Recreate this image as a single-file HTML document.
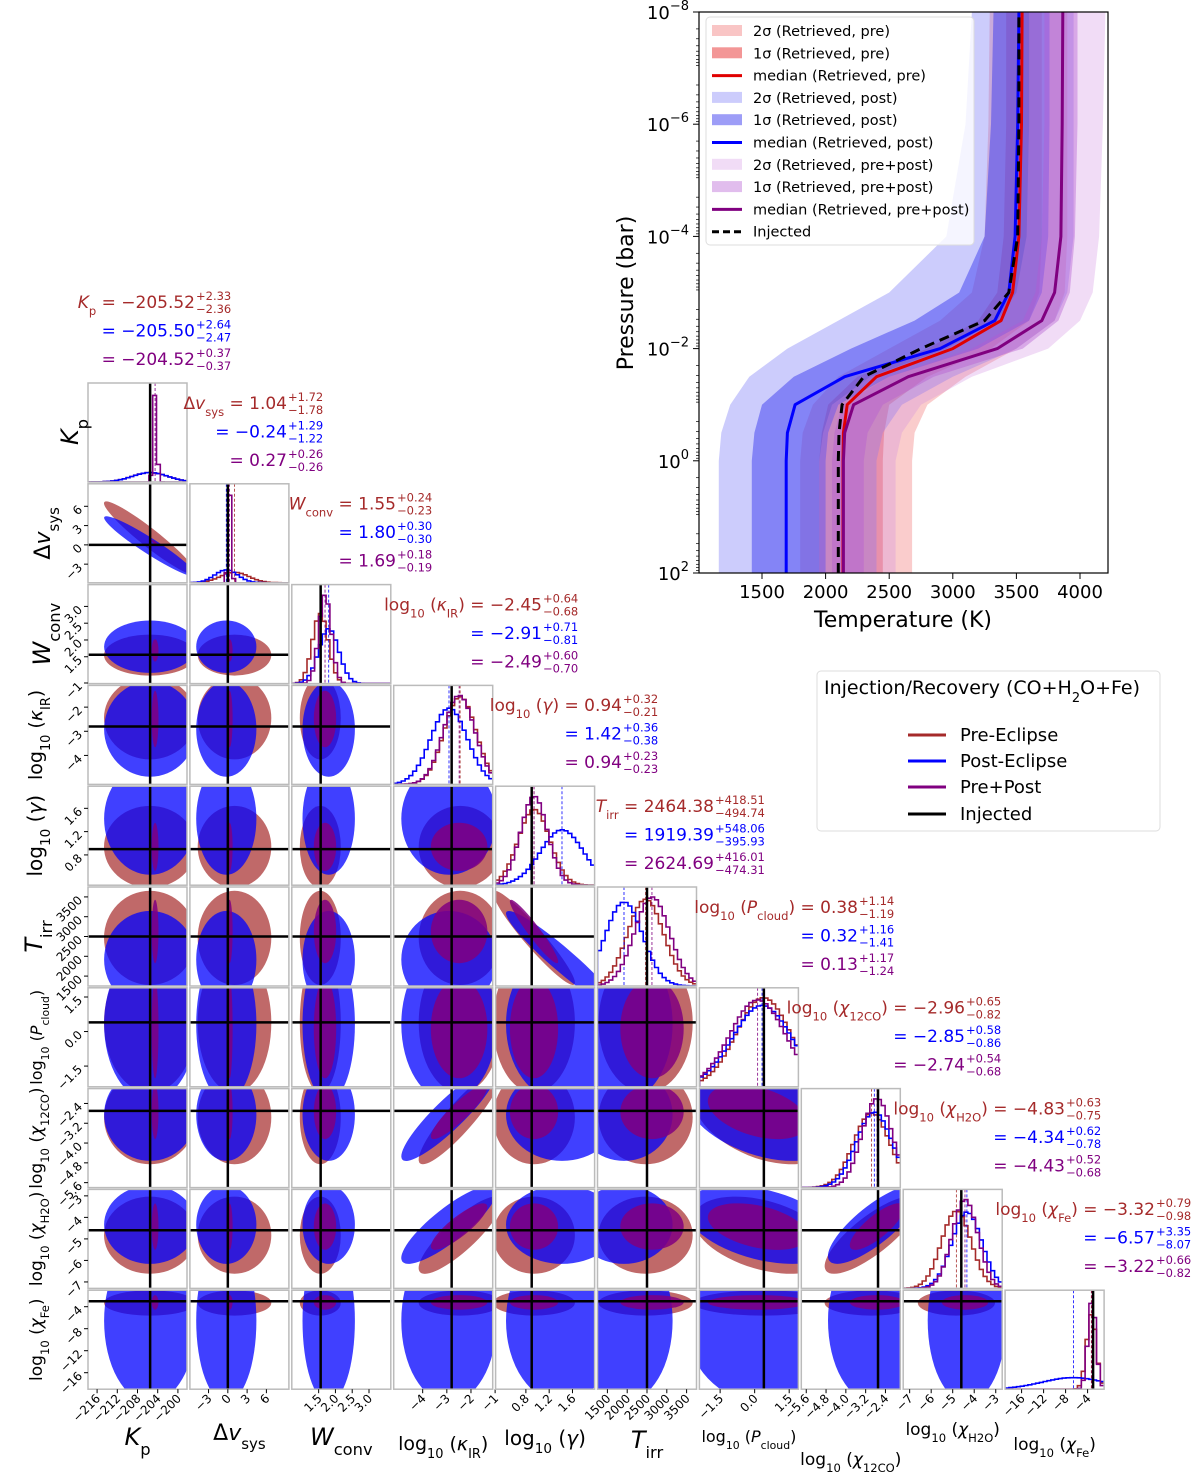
<!DOCTYPE html>
<html><head><meta charset="utf-8"><style>
body{margin:0;background:#fff;}
svg{display:block;font-family:"DejaVu Sans","Liberation Sans",sans-serif;}
</style></head><body>
<svg id="fig" width="1200" height="1473" viewBox="0 0 1200 1473" xmlns="http://www.w3.org/2000/svg">
<defs id="defs"></defs>
<g id="pt"></g>
<g id="corner"></g>
<g id="legend2">
 <rect x="817" y="671" width="343" height="160" rx="4" fill="#fff" stroke="#ddd"/>
 <text x="824" y="694" font-size="19">Injection/Recovery (CO+H<tspan font-size="13" baseline-shift="sub">2</tspan>O+Fe)</text>
 <line x1="908" y1="735" x2="946" y2="735" stroke="#a52a2a" stroke-width="3"/><text x="960" y="741" font-size="18">Pre-Eclipse</text>
 <line x1="908" y1="761" x2="946" y2="761" stroke="#0000ff" stroke-width="3"/><text x="960" y="767" font-size="18">Post-Eclipse</text>
 <line x1="908" y1="787" x2="946" y2="787" stroke="#800080" stroke-width="3"/><text x="960" y="793" font-size="18">Pre+Post</text>
 <line x1="908" y1="814" x2="946" y2="814" stroke="#000" stroke-width="3"/><text x="960" y="820" font-size="18">Injected</text>
</g>
</svg>
<script>
// ---------- PT profile data ----------
const logP = [2, 0, -0.5, -1, -1.5, -2, -2.5, -3, -4, -6, -8];
const preMed  = [2137,2137,2140,2170,2400,3000,3380,3470,3520,3540,3545];
const injT    = [2100,2100,2105,2130,2300,2750,3250,3440,3510,3520,3520];
const postMed = [1690,1690,1700,1760,2150,2900,3330,3440,3490,3510,3520];
const bothMed = [2140,2140,2150,2220,2650,3350,3700,3800,3850,3860,3865];
const post2Lo = [1160,1160,1180,1250,1400,1700,2100,2500,2950,3100,3150];
const post2Hi = [2400,2400,2450,2600,3000,3500,3800,3900,3950,3950,3950];
const post1Lo = [1420,1420,1440,1500,1750,2200,2700,3050,3250,3300,3320];
const post1Hi = [2000,2000,2020,2100,2500,3200,3600,3700,3750,3760,3760];
const pre2Lo  = [1800,1800,1820,1900,2100,2500,2900,3150,3250,3280,3290];
const pre2Hi  = [2680,2680,2700,2800,3100,3500,3800,3880,3900,3900,3900];
const pre1Lo  = [1950,1950,1970,2020,2250,2800,3200,3350,3400,3420,3420];
const pre1Hi  = [2450,2450,2460,2500,2800,3300,3600,3680,3700,3700,3700];
const both2Lo = [1950,1950,1980,2050,2350,2950,3350,3500,3580,3600,3600];
const both2Hi = [2550,2550,2600,2750,3150,3750,4000,4100,4150,4180,4200];
const both1Lo = [2050,2050,2070,2130,2500,3150,3550,3650,3700,3720,3720];
const both1Hi = [2300,2300,2330,2450,2850,3550,3830,3920,3960,3980,3980];
const tTicks = [1500,2000,2500,3000,3500,4000];
const pTicks = [-8,-6,-4,-2,0,2];

// ---------- corner data ----------
const paramRange = [[-217.8,-198.2],[-5.9,9.5],[0.7,3.65],[-5.2,-1.1],[0.28,1.98],[1250,3750],[-2.4,1.9],[-5.8,-1.8],[-7.3,-2.7],[-19,-1]];
const paramTicks = [[-216,-212,-208,-204,-200],[-3,0,3,6],[1.5,2.0,2.5,3.0],[-4,-3,-2,-1],[0.8,1.2,1.6],[1500,2000,2500,3000,3500],[-1.5,0.0,1.5],[-5.6,-4.8,-4.0,-3.2,-2.4],[-7,-6,-5,-4,-3],[-16,-12,-8,-4]];
const tickDecimals = [0,0,1,0,1,0,1,1,0,0];
const injected = [-205.5,0,1.56,-2.8,0.9,2500,0.4,-2.7,-4.6,-3.0];
const medPre  = [-205.52,1.04,1.55,-2.45,0.94,2464,0.38,-2.96,-4.83,-3.32];
const medPost = [-205.50,-0.24,1.80,-2.91,1.42,1919,0.32,-2.85,-4.34,-6.57];
const medBoth = [-204.52,0.27,1.69,-2.49,0.94,2625,0.13,-2.74,-4.43,-3.22];
const sigPre  = [3.5,2.2,0.235,0.66,0.27,457,1.17,0.73,0.69,0.88];
const sigPost = [3.5,1.8,0.30,0.76,0.37,472,1.28,0.72,0.70,5.7];
const sigBoth = [0.37,0.26,0.185,0.65,0.23,445,1.2,0.61,0.60,0.74];
const corrPairs = [[0,1,-0.95],[3,7,0.9],[3,8,0.85],[7,8,0.8],[4,5,-0.95],[6,7,-0.4],[6,8,-0.4]];

const NS="http://www.w3.org/2000/svg";
function mk(tag,attrs,parent){const e=document.createElementNS(NS,tag);for(const k in attrs)e.setAttribute(k,attrs[k]);if(parent)parent.appendChild(e);return e;}

// ===== PT chart =====
const pt=document.getElementById('pt');
const X0=699,X1=1108,Y0=12,Y1=573;
const xT=t=>762+(t-1500)*0.1272;
const yP=p=>Y0+(p+8)*56.1;
mk('clipPath',{id:'ptclip'},document.getElementById('defs')).appendChild(mk('rect',{x:X0,y:Y0,width:X1-X0,height:Y1-Y0}));
const ptInner=mk('g',{'clip-path':'url(#ptclip)'},pt);
function band(lo,hi,fill,name){
  let d='M'+lo.map((t,i)=>xT(t).toFixed(1)+','+yP(logP[i]).toFixed(1)).join('L');
  for(let i=hi.length-1;i>=0;i--)d+='L'+xT(hi[i]).toFixed(1)+','+yP(logP[i]).toFixed(1);
  const e=mk('path',{d:d+'Z',fill:fill,stroke:'none'},ptInner);
  
  
}
function line(ts,col,name,dash){
  const e=mk('path',{d:'M'+ts.map((t,i)=>xT(t).toFixed(1)+','+yP(logP[i]).toFixed(1)).join('L'),fill:'none',stroke:col,'stroke-width':3,'stroke-linejoin':'round'},ptInner);
  if(dash)e.setAttribute('stroke-dasharray',dash);
  
  
}
band(pre2Lo,pre2Hi,'rgba(240,110,110,0.35)','pre-2sigma-band');
band(pre1Lo,pre1Hi,'rgba(235,80,80,0.45)','pre-1sigma-band');
band(post2Lo,post2Hi,'rgba(110,110,245,0.35)','post-2sigma-band');
band(post1Lo,post1Hi,'rgba(60,60,240,0.50)','post-1sigma-band');
band(both2Lo,both2Hi,'rgba(210,140,225,0.30)','prepost-2sigma-band');
band(both1Lo,both1Hi,'rgba(180,90,210,0.40)','prepost-1sigma-band');
line(preMed,'#e00000','pre-median-line');
line(postMed,'#0000ff','post-median-line');
line(bothMed,'#800080','prepost-median-line');
line(injT,'#000','injected-line','10,6');
mk('rect',{x:X0,y:Y0,width:X1-X0,height:Y1-Y0,fill:'none',stroke:'#000','stroke-width':1.2},pt);
tTicks.forEach(t=>{const x=xT(t);mk('line',{x1:x,y1:Y1,x2:x,y2:Y1+6,stroke:'#000'},pt);
 const tx=mk('text',{x:x,y:Y1+25,'font-size':18,'text-anchor':'middle'},pt);tx.textContent=t;
 });
pTicks.forEach(p=>{const y=yP(p);mk('line',{x1:X0-6,y1:y,x2:X0,y2:y,stroke:'#000'},pt);
 const tx=mk('text',{x:X0-10,y:y+7,'font-size':18,'text-anchor':'end'},pt);
 
 tx.innerHTML='10<tspan font-size="13" dy="-9">'+(p<0?'\u2212'+(-p):p)+'</tspan>';});
for(let p=-8;p<2;p++){for(let k=2;k<10;k++){const y=yP(p+Math.log10(k));mk('line',{x1:X0-3,y1:y,x2:X0,y2:y,stroke:'#000','stroke-width':0.7},pt);}}
let t=mk('text',{x:903,y:627,'font-size':22,'text-anchor':'middle'},pt);t.textContent='Temperature (K)';

t=mk('text',{x:0,y:0,'font-size':22,'text-anchor':'middle',transform:'translate(633,293) rotate(-90)'},pt);t.textContent='Pressure (bar)';

// legend
const lg=mk('g',{},pt);

mk('rect',{x:706,y:17,width:268,height:228,rx:4,fill:'rgba(255,255,255,0.8)',stroke:'#ddd'},lg);
const legItems=[['rect','rgba(240,110,110,0.4)','2σ (Retrieved, pre)'],['rect','rgba(235,80,80,0.6)','1σ (Retrieved, pre)'],['line','#e00000','median (Retrieved, pre)'],
['rect','rgba(110,110,245,0.35)','2σ (Retrieved, post)'],['rect','rgba(60,60,240,0.5)','1σ (Retrieved, post)'],['line','#0000ff','median (Retrieved, post)'],
['rect','rgba(210,140,225,0.3)','2σ (Retrieved, pre+post)'],['rect','rgba(180,90,210,0.4)','1σ (Retrieved, pre+post)'],['line','#800080','median (Retrieved, pre+post)'],['dash','#000','Injected']];
legItems.forEach((it,i)=>{const y=31+i*22.3;
 if(it[0]==='rect')mk('rect',{x:712,y:y-6,width:30,height:11,fill:it[1]},lg);
 else mk('line',{x1:712,y1:y,x2:742,y2:y,stroke:it[1],'stroke-width':3,'stroke-dasharray':it[0]==='dash'?'7,4':'none'},lg);
 const tx=mk('text',{x:753,y:y+5,'font-size':14.5},lg);tx.textContent=it[2];
 
});

// ===== Corner plot =====
const cg=document.getElementById('corner');
const defs=document.getElementById('defs');
const S=99;
const colX=i=>88+i*101.9, rowY=i=>383+i*100.8;
const sx=(i,v)=>colX(i)+(v-paramRange[i][0])/(paramRange[i][1]-paramRange[i][0])*S;
const syr=(r,i,v)=>rowY(r)+(paramRange[i][1]-v)/(paramRange[i][1]-paramRange[i][0])*S;
const N=10;
const cols=['#a52a2a','#0000ff','#800080'];
const meds=[medPre,medPost,medBoth], sigs=[sigPre,sigPost,sigBoth];
function rho(a,b){for(const c of corrPairs){if((c[0]===a&&c[1]===b)||(c[0]===b&&c[1]===a))return c[2];}return 0;}
function fmt(v,i){return (v<0?'\u2212':'')+Math.abs(v).toFixed(tickDecimals[i]);}
for(let r=0;r<N;r++){for(let c=0;c<=r;c++){
  const px=colX(c),py=rowY(r);
  const g=mk('g',{},cg);
  
  
  const cid='cp'+r+'_'+c;
  mk('clipPath',{id:cid},defs).appendChild(mk('rect',{x:px,y:py,width:S,height:S}));
  const inner=mk('g',{'clip-path':'url(#'+cid+')'},g);
  if(r===c){
    const bins=26, lo=paramRange[c][0], hi=paramRange[c][1], bw=(hi-lo)/bins;
    let maxD=0; sigs.forEach(s=>{maxD=Math.max(maxD,1/s[c]);});
    [0,1,2].forEach(k=>{
      let d='M'+px+','+(py+S);
      for(let b=0;b<bins;b++){const v=lo+(b+0.5)*bw;const z=(v-meds[k][c])/sigs[k][c];
        const dens=Math.exp(-0.5*z*z)/sigs[k][c]/maxD;const y=py+S-dens*0.9*S;
        d+='L'+sx(c,lo+b*bw).toFixed(1)+','+y.toFixed(1)+'L'+sx(c,lo+(b+1)*bw).toFixed(1)+','+y.toFixed(1);}
      const e=mk('path',{d:d,fill:'none',stroke:cols[k],'stroke-width':1.6},inner);
      
      
      const m=sx(c,meds[k][c]);
      mk('line',{x1:m,y1:py,x2:m,y2:py+S,stroke:cols[k],'stroke-width':0.8,'stroke-dasharray':'3,2'},inner);
    });
    const ix=sx(c,injected[c]);
    mk('line',{x1:ix,y1:py,x2:ix,y2:py+S,stroke:'#000','stroke-width':2.5},inner);
  } else {
    [0,1,2].forEach(k=>{
      const sxp=sigs[k][c]*S/(paramRange[c][1]-paramRange[c][0]);
      const syp=sigs[k][r]*S/(paramRange[r][1]-paramRange[r][0]);
      const rh=rho(c,r);
      const a=sxp*sxp,b=syp*syp,cc=-rh*sxp*syp;
      const th=0.5*Math.atan2(2*cc,a-b);
      const mid=(a+b)/2,dd=Math.sqrt(((a-b)/2)**2+cc*cc);
      const kk=k===2?1.8:2.6;
      const rx=kk*Math.sqrt(mid+dd),ry=kk*Math.sqrt(Math.max(mid-dd,0.5));
      const cx=sx(c,meds[k][c]),cy=syr(r,r,meds[k][r]);
      const e=mk('ellipse',{cx:cx.toFixed(1),cy:cy.toFixed(1),rx:rx.toFixed(1),ry:ry.toFixed(1),transform:'rotate('+(th*180/Math.PI).toFixed(1)+' '+cx.toFixed(1)+' '+cy.toFixed(1)+')',fill:cols[k],'fill-opacity':k===2?0.85:(k===1?0.75:0.7)},inner);
      
      
    });
    const ix=sx(c,injected[c]), iy=syr(r,r,injected[r]);
    mk('line',{x1:ix,y1:py,x2:ix,y2:py+S,stroke:'#000','stroke-width':2.5},inner);
    mk('line',{x1:px,y1:iy,x2:px+S,y2:iy,stroke:'#000','stroke-width':2.5},inner);
  }
  mk('rect',{x:px,y:py,width:S,height:S,fill:'none',stroke:'#bbb','stroke-width':1.5},g);
  if(r===N-1){paramTicks[c].forEach(v=>{const x=sx(c,v);mk('line',{x1:x,y1:py+S,x2:x,y2:py+S+4,stroke:'#000'},g);
    const tx=mk('text',{x:0,y:0,'font-size':12,'text-anchor':'end',transform:'translate('+(x+4)+','+(py+S+10)+') rotate(-45)'},g);tx.textContent=fmt(v,c);
    });}
  if(c===0&&r>0){paramTicks[r].forEach(v=>{const y=syr(r,r,v);mk('line',{x1:px-4,y1:y,x2:px,y2:y,stroke:'#000'},g);
    const tx=mk('text',{x:0,y:0,'font-size':12,'text-anchor':'end',transform:'translate('+(px-5)+','+(y+4)+') rotate(-45)'},g);tx.textContent=fmt(v,r);
    });}
}}
const sub=s=>'<tspan font-size="0.68em" baseline-shift="sub">'+s+'</tspan>';
const labels=['<tspan font-style="italic">K</tspan>'+sub('p'),'Δ<tspan font-style="italic">v</tspan>'+sub('sys'),'<tspan font-style="italic">W</tspan>'+sub('conv'),
'log'+sub('10')+' (<tspan font-style="italic">κ</tspan>'+sub('IR')+')','log'+sub('10')+' (<tspan font-style="italic">γ</tspan>)','<tspan font-style="italic">T</tspan>'+sub('irr'),
'log'+sub('10')+' (<tspan font-style="italic">P</tspan>'+sub('cloud')+')','log'+sub('10')+' (<tspan font-style="italic">χ</tspan>'+sub('12CO')+')',
'log'+sub('10')+' (<tspan font-style="italic">χ</tspan>'+sub('H2O')+')','log'+sub('10')+' (<tspan font-style="italic">χ</tspan>'+sub('Fe')+')'];
const labelSize=[24,22,24,19,20,24,16,17,17,17];
const xLabY=[1445,1440,1445,1450,1445,1448,1442,1465,1435,1450];
for(let i=0;i<N;i++){
  const tx=mk('text',{x:colX(i)+S/2,y:xLabY[i],'font-size':labelSize[i],'text-anchor':'middle'},cg);tx.innerHTML=labels[i];
  
  if(i>0){const ty=mk('text',{x:0,y:0,'font-size':labelSize[i],'text-anchor':'middle',transform:'translate('+(i<3?50:42)+','+(rowY(i)+S/2)+') rotate(-90)'},cg);ty.innerHTML=labels[i];
  }
}
let k0=mk('text',{x:0,y:0,'font-size':24,'text-anchor':'middle',transform:'translate(78,432) rotate(-90)'},cg);k0.innerHTML=labels[0];

const titleVals=[
[['−205.52','+2.33','−2.36'],['−205.50','+2.64','−2.47'],['−204.52','+0.37','−0.37']],
[['1.04','+1.72','−1.78'],['−0.24','+1.29','−1.22'],['0.27','+0.26','−0.26']],
[['1.55','+0.24','−0.23'],['1.80','+0.30','−0.30'],['1.69','+0.18','−0.19']],
[['−2.45','+0.64','−0.68'],['−2.91','+0.71','−0.81'],['−2.49','+0.60','−0.70']],
[['0.94','+0.32','−0.21'],['1.42','+0.36','−0.38'],['0.94','+0.23','−0.23']],
[['2464.38','+418.51','−494.74'],['1919.39','+548.06','−395.93'],['2624.69','+416.01','−474.31']],
[['0.38','+1.14','−1.19'],['0.32','+1.16','−1.41'],['0.13','+1.17','−1.24']],
[['−2.96','+0.65','−0.82'],['−2.85','+0.58','−0.86'],['−2.74','+0.54','−0.68']],
[['−4.83','+0.63','−0.75'],['−4.34','+0.62','−0.78'],['−4.43','+0.52','−0.68']],
[['−3.32','+0.79','−0.98'],['−6.57','+3.35','−8.07'],['−3.22','+0.66','−0.82']]];
const titleEnd=[235,327,436,582,662,770,898,1005,1105,1195];
for(let i=0;i<N;i++){
  const yT=rowY(i)-75;
  for(let k=0;k<3;k++){
    const v=titleVals[i][k];const ex=v[1].length>5?56:40;const xe=titleEnd[i]-ex;const y=yT+k*28.5;
    const tx=mk('text',{x:xe,y:y,'font-size':17,'text-anchor':'end',fill:cols[k]},cg);
    tx.innerHTML=(k===0?labels[i]+' ':'')+'= '+v[0];
    
    
    const s1=mk('text',{x:xe+1,y:y-8,'font-size':11.5,fill:cols[k]},cg);s1.textContent=v[1];
    const s2=mk('text',{x:xe+1,y:y+5,'font-size':11.5,fill:cols[k]},cg);s2.textContent=v[2];
  }
}
</script>
</body></html>
